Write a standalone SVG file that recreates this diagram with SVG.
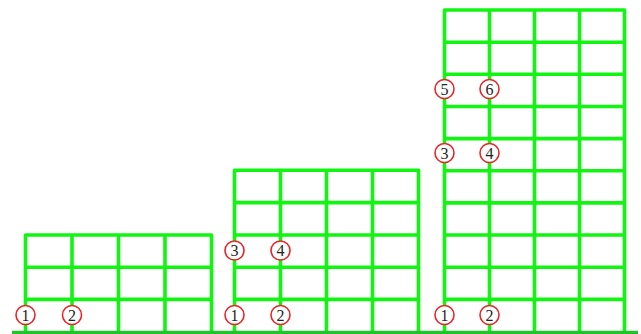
<svg xmlns="http://www.w3.org/2000/svg" width="641" height="334" viewBox="0 0 641 334">
<style>
.g{fill:none;stroke:#12f512;stroke-width:3.6;stroke-linejoin:round;stroke-linecap:square}
.c{fill:#fff;stroke:#e8262a;stroke-width:1.6}
.t{font-family:"Liberation Serif",serif;font-size:16px;fill:#222;text-anchor:middle}
</style>
<rect width="641" height="334" fill="#fff"/>
<g id="frame1">
<path class="g" d="M25.5,331.5 V235 H211.5 V331.5 M72,235 V331.5 M118.5,235 V331.5 M165,235 V331.5 M25.5,267.2 H211.5 M25.5,299.4 H211.5"/>
</g>
<g id="frame2">
<path class="g" d="M234.5,331.5 V170.2 H418.5 V331.5 M280.5,170.2 V331.5 M326.5,170.2 V331.5 M372.5,170.2 V331.5 M234.5,202.6 H418.5 M234.5,235 H418.5 M234.5,267.2 H418.5 M234.5,299.4 H418.5"/>
</g>
<g id="frame3">
<path class="g" d="M444.5,331.5 V10 H624.5 V331.5 M489.5,10 V331.5 M534.5,10 V331.5 M579.5,10 V331.5 M444.5,42.2 H624.5 M444.5,74.3 H624.5 M444.5,106.5 H624.5 M444.5,138.6 H624.5 M444.5,170.7 H624.5 M444.5,202.9 H624.5 M444.5,235 H624.5 M444.5,267.2 H624.5 M444.5,299.4 H624.5"/>
</g>
<g id="ground">
<line x1="12" y1="333" x2="638" y2="333" stroke="#1ec42a" stroke-width="4.5"/>
</g>
<g id="labels">
<g id="f1n1"><circle class="c" cx="25.5" cy="315" r="9.5"/><text class="t" x="25.5" y="320.5">1</text></g>
<g id="f1n2"><circle class="c" cx="72" cy="315" r="9.5"/><text class="t" x="72" y="320.5">2</text></g>
<g id="f2n1"><circle class="c" cx="234.5" cy="315" r="9.5"/><text class="t" x="234.5" y="320.5">1</text></g>
<g id="f2n2"><circle class="c" cx="280.5" cy="315" r="9.5"/><text class="t" x="280.5" y="320.5">2</text></g>
<g id="f2n3"><circle class="c" cx="234.5" cy="250.5" r="9.5"/><text class="t" x="234.5" y="256">3</text></g>
<g id="f2n4"><circle class="c" cx="280.5" cy="250.5" r="9.5"/><text class="t" x="280.5" y="256">4</text></g>
<g id="f3n1"><circle class="c" cx="444.5" cy="315" r="9.5"/><text class="t" x="444.5" y="320.5">1</text></g>
<g id="f3n2"><circle class="c" cx="489.5" cy="315" r="9.5"/><text class="t" x="489.5" y="320.5">2</text></g>
<g id="f3n3"><circle class="c" cx="444.5" cy="153" r="9.5"/><text class="t" x="444.5" y="158.5">3</text></g>
<g id="f3n4"><circle class="c" cx="489.5" cy="153" r="9.5"/><text class="t" x="489.5" y="158.5">4</text></g>
<g id="f3n5"><circle class="c" cx="444.5" cy="89" r="9.5"/><text class="t" x="444.5" y="94.5">5</text></g>
<g id="f3n6"><circle class="c" cx="489.5" cy="89" r="9.5"/><text class="t" x="489.5" y="94.5">6</text></g>
</g>
</svg>
